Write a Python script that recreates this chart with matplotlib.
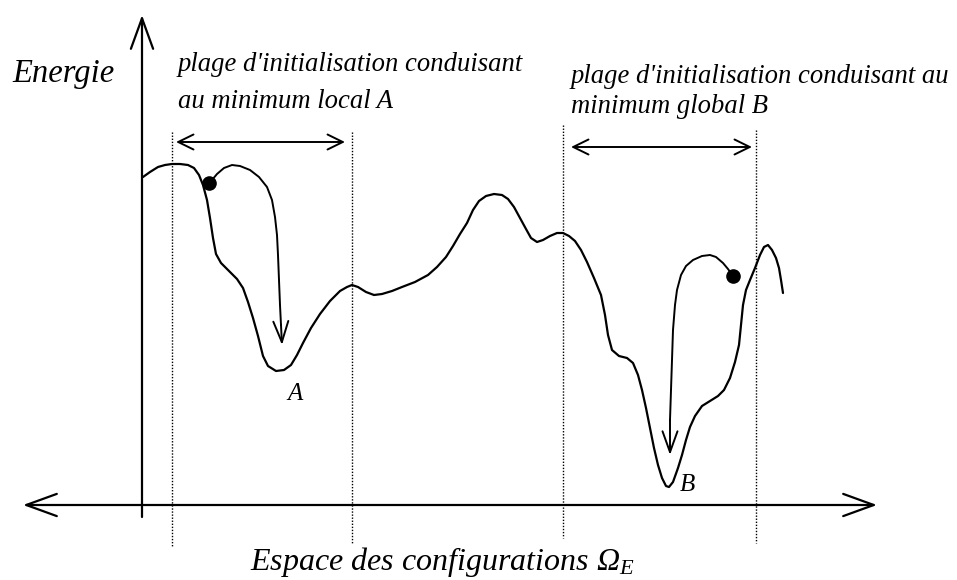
import matplotlib
matplotlib.use("Agg")
import matplotlib.pyplot as plt

plt.rcParams['font.family'] = ['Liberation Serif', 'DejaVu Serif']
plt.rcParams['mathtext.fontset'] = 'custom'
plt.rcParams['mathtext.rm'] = 'Liberation Serif:italic'
plt.rcParams['mathtext.it'] = 'Liberation Serif:italic'

# ---- data (schematic energy landscape, read in figure pixel units) ----
curve_x = [143, 150, 158, 165, 172, 180, 188, 194, 199, 203, 207, 210, 213, 216, 221,
           228, 237, 243, 248, 253, 258, 263, 268, 276, 284, 291, 297, 303, 311, 320,
           330, 340, 347, 352, 358, 366, 374, 382, 392, 402, 415, 428, 437, 446, 453,
           460, 467, 473, 479, 486, 494, 502, 508, 514, 520, 526, 531, 537, 543, 550,
           557, 563, 569, 575, 581, 587, 594, 601, 605, 608, 612, 619, 627, 633, 638,
           642, 646, 650, 654, 658, 662, 666, 669, 673, 678, 682, 686, 690, 695, 702,
           710, 718, 724, 730, 735, 739, 741, 743, 746, 750, 755, 760, 764, 768, 772,
           776, 779, 781, 783]
curve_y = [177, 172, 167, 165, 164, 164, 165, 168, 175, 185, 200, 218, 238, 254, 263,
           270, 279, 288, 302, 318, 336, 356, 366, 371, 370, 365, 355, 343, 328, 314,
           301, 291, 287, 285, 287, 292, 295, 294, 291, 287, 282, 275, 267, 257, 246,
           234, 223, 210, 201, 196, 194, 195, 199, 207, 218, 229, 238, 242, 240, 236,
           233, 233, 236, 241, 250, 262, 278, 295, 315, 335, 350, 356, 358, 363, 375,
           390, 408, 428, 448, 465, 478, 486, 487, 482, 468, 455, 440, 427, 416, 406,
           401, 396, 390, 378, 362, 345, 325, 305, 290, 280, 268, 255, 247, 245, 250,
           258, 268, 280, 293]

# descent path from start point to local minimum A
path_a_x = [209, 212, 217, 224, 232, 240, 250, 259, 267, 272, 275, 277, 278, 279, 280, 281, 282]
path_a_y = [183, 180, 174, 168, 165, 166, 170, 177, 187, 200, 217, 235, 255, 280, 305, 325, 345]

# descent path from start point to global minimum B
path_b_x = [733, 728, 723, 716, 710, 702, 693, 686, 681, 677, 675, 673, 672, 671, 670, 670]
path_b_y = [276, 269, 263, 257, 255, 256, 260, 266, 275, 290, 305, 330, 360, 390, 420, 455]

start_points_x = [209, 733]
start_points_y = [183, 276]

# dotted range boundaries: x, top, bottom
bound_x = [172, 352, 563, 756]
bound_top = [132, 132, 125, 130]
bound_bottom = [547, 543, 538, 543]

# initialisation ranges (double arrows): x_start, x_end, y
range_x0 = [176, 571]
range_x1 = [345, 752]
range_y = [142, 147]

range_labels = [["plage d'initialisation conduisant", "au minimum local A"],
                ["plage d'initialisation conduisant au", "minimum global B"]]
range_label_x = [178, 571]
range_label_y = [[71, 108], [83, 113]]

minima_labels = ["A", "B"]
minima_label_x = [287, 680]
minima_label_y = [400, 491]

y_label = "Energie"
x_label = r"Espace des configurations $\Omega_E$"

# ---- figure ----
fig = plt.figure(figsize=(9.57, 5.80), dpi=100)
ax = fig.add_axes([0, 0, 1, 1])
ax.set_xlim(0, 957)
ax.set_ylim(580, 0)
ax.axis('off')

# axes arrows
ax.annotate('', xy=(142, 15), xytext=(142, 517),
            arrowprops=dict(arrowstyle='->,head_length=1.1,head_width=0.4',
                            lw=1.6, color='black', shrinkA=0, shrinkB=0,
                            mutation_scale=20))
ax.annotate('', xy=(877, 505), xytext=(23, 505),
            arrowprops=dict(arrowstyle='<->,head_length=1.1,head_width=0.4',
                            lw=1.6, color='black', shrinkA=0, shrinkB=0,
                            mutation_scale=20))

# dotted boundaries
for x, t, b in zip(bound_x, bound_top, bound_bottom):
    ax.plot([x, x], [t, b], color='black', lw=1.0, linestyle=(0, (1, 1.2)))

# range arrows
for x0, x1, y in zip(range_x0, range_x1, range_y):
    ax.annotate('', xy=(x1, y), xytext=(x0, y),
                arrowprops=dict(arrowstyle='<->,head_length=0.55,head_width=0.27',
                                lw=1.4, color='black', shrinkA=0, shrinkB=0,
                                mutation_scale=20))

# energy curve
ax.plot(curve_x, curve_y, color='black', lw=1.6, solid_capstyle='round',
        solid_joinstyle='round')

# descent paths with arrowheads
for px, py in ((path_a_x, path_a_y), (path_b_x, path_b_y)):
    ax.plot(px[:-1], py[:-1], color='black', lw=1.4, solid_joinstyle='round')
    ax.annotate('', xy=(px[-1], py[-1]), xytext=(px[-2], py[-2]),
                arrowprops=dict(arrowstyle='->,head_length=0.75,head_width=0.27',
                                lw=1.4, color='black', shrinkA=0, shrinkB=0,
                                mutation_scale=20))

# start points
ax.plot(start_points_x, start_points_y, 'o', color='black', markersize=9.5)

# texts
ax.text(12, 82, y_label, fontsize=23.5, style='italic', va='baseline', ha='left')
for lines, lx, lys in zip(range_labels, range_label_x, range_label_y):
    for txt, ly in zip(lines, lys):
        ax.text(lx, ly, txt, fontsize=19.2, style='italic', va='baseline', ha='left')
for lab, lx, ly in zip(minima_labels, minima_label_x, minima_label_y):
    ax.text(lx, ly, lab, fontsize=18, style='italic', va='baseline', ha='left')
ax.text(250, 570, x_label, fontsize=23, style='italic', va='baseline', ha='left')

fig.savefig("out.png", dpi=100)
